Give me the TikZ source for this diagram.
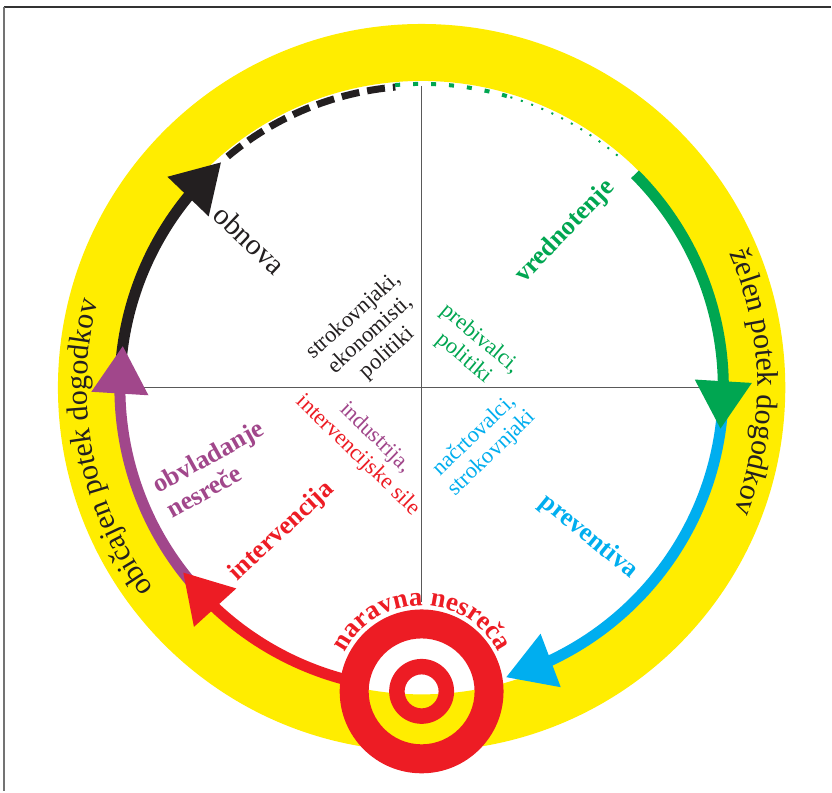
\documentclass[tikz,border=0pt]{standalone}
\usepackage{fontspec}
\setmainfont{Liberation Serif}
\usepackage{tikz}
\usetikzlibrary{arrows.meta,bending,decorations.text}
\definecolor{ringyellow}{RGB}{255,237,0}
\definecolor{nred}{RGB}{237,28,36}
\definecolor{ngreen}{RGB}{0,166,81}
\definecolor{nblue}{RGB}{0,174,239}
\definecolor{npurple}{RGB}{161,71,139}
\definecolor{nblack}{RGB}{35,31,32}
\newcommand{\fs}[2]{\fontsize{#1}{#2}\selectfont}

\begin{document}
\begin{tikzpicture}[x=1pt, y=1pt,
  phase/.style={draw=#1, line width=11pt, -{Triangle[length=48pt, width=54pt, flex]}},
  lbl/.style={text=#1, font=\fs{22.5}{25}, align=center, inner sep=0pt},
  blbl/.style={text=#1, font=\fs{26}{29}\bfseries, inner sep=0pt},
  ontrack/.style={decorate, decoration={text along path, text align=center, text={#1}}}]
\fill[white] (-422,-404) rectangle (410,388);
\draw[line width=1.5pt, black!80] (-418,381) -- (410,381);
\draw[line width=2pt, black!55] (-418,381) -- (-418,-404);

\coordinate (c) at (0,0);
\coordinate (t) at (0,-304);
\fill[ringyellow, even odd rule] (c) circle[radius=364] circle[radius=307];
\draw[line width=1pt, black!65] (0,302) -- (0,-215);
\draw[line width=1pt, black!65] (-302,0) -- (302,0);

\draw[nblack, line width=7pt, dash pattern=on 18pt off 8pt] (130:302) arc[start angle=130, end angle=95, radius=302];
\draw[ngreen, line width=4pt, dash pattern=on 5pt off 13pt] (95:304) arc[start angle=95, end angle=73, radius=304];
\draw[ngreen, line width=2pt, dash pattern=on 2pt off 9pt] (73:304) arc[start angle=73, end angle=49, radius=304];
\foreach \from/\to/\col in {178/131.6/nblack, -3/-73.8/nblue, 45/-7.9/ngreen, 222/172/npurple, 258/217.7/nred}
  \draw[phase=\col] (\from:302) arc[start angle=\from, end angle=\to, radius=302];

\fill[nred, even odd rule] (t) circle[radius=82] circle[radius=53];
\fill[nred, even odd rule] (t) circle[radius=32.5] circle[radius=17];

\path[ontrack={|\fs{30}{30}\color{nblack}|običajen potek dogodkov}] (231:335) arc[start angle=231, end angle=151, radius=335];
\path[ontrack={|\fs{30}{30}\color{nblack}|želen potek dogodkov}] (41:336) arc[start angle=41, end angle=-39, radius=336];
\path[ontrack={|\fs{27}{27}\bfseries\color{nred}|naravna nesreča}] (t) ++(168:86) arc[start angle=168, end angle=12, radius=86];

\node[rotate=-43.5, text=nblack, font=\fs{29.5}{30}, inner sep=0pt] (obnova) at (-172,148) {obnova};
\node[blbl=ngreen, rotate=46] (vrednotenje) at (144,156) {vrednotenje};
\node[blbl=npurple, rotate=29, align=left] (obvladanje) at (-207,-81) {obvladanje\\nesreče};
\node[blbl=nred, rotate=43] (intervencija) at (-140,-144) {intervencija};
\node[blbl=nblue, rotate=-39.3] (preventiva) at (167,-149) {preventiva};

\node[lbl=nblack, rotate=42] (strokovnjaki) at (-51,53) {strokovnjaki,\\ekonomisti,\\politiki};
\node[lbl=ngreen, rotate=-40] (prebivalci) at (50,39) {prebivalci,\\politiki};
\node[lbl=nblue, rotate=44] (nacrtovalci) at (62,-57) {načrtovalci,\\strokovnjaki};
\node[lbl=nred, rotate=-44] (industrija) at (-55,-59) {\textcolor{npurple}{industrija,}\\intervencijske sile};
\end{tikzpicture}
\end{document}
